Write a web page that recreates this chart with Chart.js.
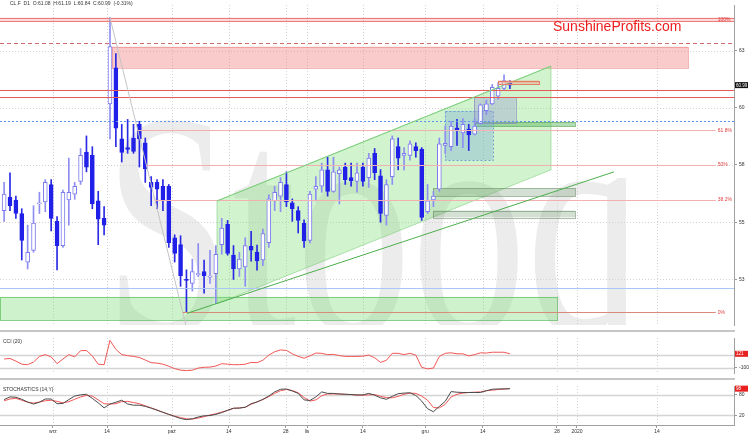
<!DOCTYPE html>
<html>
<head>
<meta charset="utf-8">
<script src="https://cdn.jsdelivr.net/npm/chart.js@4.4.1/dist/chart.umd.min.js"></script>
<style>
  html, body { margin: 0; padding: 0; background: #fff; }
  #wrap { position: relative; width: 756px; height: 436px; overflow: hidden; }
  canvas { position: absolute; left: 0; }
  .sep { position: absolute; left: 0; width: 735px; height: 2px; background: #c6c6c6; }
</style>
</head>
<body>
<div id="wrap">
  <canvas id="price" width="756" height="330" style="top:0"></canvas>
  <canvas id="cci" width="756" height="45" style="top:333px"></canvas>
  <canvas id="stoch" width="756" height="55" style="top:381px"></canvas>
  <div class="sep" style="top:330px"></div>
  <div class="sep" style="top:378px"></div>
</div>
<script>
// CL.F daily candles, 20 Aug - 20 Dec 2019 (session index 0..86)
const opens = [55.51,56.10,55.97,55.38,53.26,53.77,55.80,55.89,56.65,55.04,53.98,55.97,56.23,56.78,58.05,57.92,55.93,55.17,60.17,61.74,
  58.64,58.26,58.68,59.28,58.47,56.74,56.74,56.57,56.57,54.32,54.02,52.50,52.33,52.71,52.84,52.60,52.75,54.02,54.91,53.56,
  52.96,53.05,53.95,53.70,53.35,54.11,55.93,56.14,56.65,55.85,55.51,54.96,54.20,56.44,56.57,57.29,56.35,57.12,57.41,56.95,
  56.78,57.41,56.95,58.01,57.03,55.30,56.99,58.30,57.92,57.92,58.30,58.18,55.46,55.97,56.44,58.35,58.30,59.11,58.90,59.07,
  58.85,59.32,59.87,60.17,60.51,60.85,61.08];
const highs = [56.74,57.16,56.14,55.59,54.87,55.72,56.31,56.86,56.86,55.25,56.40,57.80,56.74,58.22,58.77,58.30,56.35,55.68,63.94,62.37,
  59.28,59.49,59.28,59.41,58.68,56.99,56.86,56.86,56.65,54.45,54.41,52.92,53.39,54.07,53.35,53.77,53.98,55.17,55.08,53.98,
  53.69,54.32,54.60,54.00,54.70,56.20,56.57,56.95,57.20,56.02,55.68,55.10,56.35,56.99,57.58,57.84,57.84,57.41,57.58,57.58,
  57.58,57.58,58.01,58.22,57.30,56.86,58.77,58.68,58.26,58.56,58.47,58.26,56.65,56.35,58.68,59.20,59.41,59.49,59.53,59.28,
  59.53,60.17,60.34,61.02,61.10,61.44,61.19];
const lows = [55.04,55.51,55.17,53.35,52.96,53.69,55.38,55.46,54.62,52.92,53.90,54.87,56.00,56.65,57.20,55.59,54.02,54.45,58.64,58.30,
  57.63,58.01,58.01,57.41,56.74,55.72,55.59,55.51,53.90,53.26,52.20,51.06,51.99,52.63,51.90,52.33,51.44,53.60,53.56,52.50,
  52.63,52.20,53.30,52.90,53.10,53.90,55.51,55.46,55.68,55.04,54.53,53.90,54.10,55.93,56.31,56.14,56.31,55.80,56.65,56.57,
  56.31,56.57,56.52,56.86,55.00,54.87,56.65,57.29,57.29,57.71,57.84,55.08,55.38,55.68,56.35,58.00,58.13,58.35,58.26,58.13,
  58.81,59.28,59.70,60.13,60.38,60.76,60.84];
const closes = [56.23,55.72,55.38,54.20,53.69,54.96,55.85,56.74,55.17,53.98,56.31,56.31,56.57,57.92,57.41,55.80,55.13,54.87,62.67,59.11,
  58.05,58.18,58.09,58.64,57.33,56.52,56.44,55.93,54.11,53.64,52.67,52.46,52.84,52.75,52.67,52.63,53.60,54.74,53.64,52.96,
  53.39,53.98,53.78,53.31,54.50,56.02,56.31,56.74,55.89,55.59,55.08,54.18,56.23,56.57,57.29,56.35,57.20,57.29,56.86,56.82,
  57.16,56.78,57.80,57.16,55.38,56.65,58.64,57.80,58.01,58.43,58.13,55.21,55.93,56.14,58.43,58.45,59.20,59.02,59.28,58.81,
  59.20,60.13,60.17,60.89,60.85,61.19,60.99];

// CCI (20)
const cci = [37,46,4,-46,-54,-12,79,108,71,-38,37,108,71,171,175,87,-46,-54,337,192,
  108,92,79,62,21,-21,-29,-46,-79,-117,-142,-150,-142,-108,-96,-92,-75,-38,-46,-54,
  -54,-46,-17,-21,17,100,154,183,175,121,79,50,87,133,129,108,112,92,79,79,
  79,83,100,58,-17,17,129,129,108,129,100,-96,-121,-108,79,129,137,121,121,87,
  108,137,133,146,146,146,121];

// Stochastics (14,Y): %K black, %D red
const stochK = [66.1,73.9,73,67,59,53,58.3,67.8,67.8,53.9,54.8,66.1,76.5,80,81.7,69.6,56.5,41.7,53,58.3,
  64.3,53,49.6,49.6,46.1,40.9,34.8,28.7,22.6,16.5,10.4,7,9.6,14.8,18.3,19.1,22.6,27.8,34.8,40.9,
  40.9,43.5,53.9,59.1,67,76.5,88.7,96.5,97.4,91.3,84.3,65.2,63.5,73.9,88.7,84.3,84.3,82.6,81.7,80.9,
  80,80,84.3,79.1,71.3,67,75.7,83.5,85.2,86.1,78.3,61.7,39.1,30.4,46.1,60.9,89.6,87.8,87,87,
  87,87,92.2,96.5,97.4,97.4,98.3];
const stochD = [62.6,67.8,69.6,64.3,58.3,55.7,59,62.6,64.3,60.9,56.5,60,67,73.9,78.3,76.5,65.2,53.9,53,53.9,
  60,60.9,57.4,53.9,47.8,41.7,35.7,28.7,22.6,17.4,13,9.6,8.7,11.7,15.7,20.9,24.3,29.6,33.9,40,
  41.7,43.5,52.2,59.1,66.1,74.8,84.3,92.2,95.7,93,86.1,72.2,61.7,65.2,77.4,82.6,82.6,82.6,81.7,80.9,
  79.1,79.1,80,80.9,75.7,72.2,71.3,75.7,81.7,85.2,84.3,76.5,64.3,42.6,41.7,52.2,73.9,81.7,85.2,87,
  87.8,88.7,92.2,93.9,95.7,97.4,98.3];

// axes
const xTickPos = [8.3, 17.5, 28.5, 38.2, 47.9, 51.5, 61, 71.6, 81.4, 94, 97.4, 111];
const xTickText = ['wrz', '14', 'paź', '14', '28', 'lis', '14', 'gru', '14', '28', '2020', '14'];
const priceTicks = [52.5, 55, 57.5, 60, 62.5];
const priceTickText = ['53', '55', '58', '60', '63'];
const cciTicks = [100, -100];
const stochTicks = [80, 20];

// drawn analysis (x in session index, y in price)
const fibHigh = 63.94, fibLow = 51.06, fibEnd = 121;
const fibPct = [0.618, 0.5, 0.382, 0];
const fibText = ['61.8%', '50%', '38.2%', '0%'];
const topBand = [63.77, 63.94];
const redDashLevel = 62.84;
const redLevels = [60.76, 60.47];
const blueDotLevel = 59.41;
const blueLevel = 52.12;
const redZone = [18.3, 116.3, 61.74, 62.67];
const baseZone = [-0.7, 94.0, 50.72, 51.74];
const channel = [[36.2, 55.93], [92.98, 61.82], [92.98, 57.29], [36.2, 51.44]];
const trendLine = [[31.1, 51.02], [103.7, 57.2]];
const fibDiag = [[18, 63.94], [30.9, 50.51]];
const greenBar = [80.05, 97.1, 59.19, 59.36];
const greyBars = [[72.9, 97.1, 56.14, 56.48], [72.9, 97.1, 55.21, 55.51]];
const blueBox = [74.95, 83.1, 57.71, 59.87];
const greyBox = [79.9, 87.0, 59.32, 60.47];
const targetBox = [83.97, 90.9, 61.06, 61.19];

const sessions = opens.map((_, i) => i);
const xMin = -0.7, xMax = 124.1;
const FONT = '"Liberation Sans", Arial, sans-serif';

function hline(ctx, x0, x1, yp) {
  const yy = Math.round(yp) + 0.5;
  ctx.beginPath(); ctx.moveTo(x0, yy); ctx.lineTo(x1, yy); ctx.stroke();
}
function vline(ctx, xp, y0, y1) {
  const xx = Math.round(xp) + 0.5;
  ctx.beginPath(); ctx.moveTo(xx, y0); ctx.lineTo(xx, y1); ctx.stroke();
}
function box(ctx, X, Y, b, fill, stroke, dash) {
  const l = X(b[0]), r = X(b[1]), t = Y(b[3]), bt = Y(b[2]);
  ctx.fillStyle = fill;
  ctx.fillRect(l, t, r - l, bt - t);
  if (stroke) {
    ctx.setLineDash(dash || []);
    ctx.strokeStyle = stroke; ctx.lineWidth = 1;
    ctx.strokeRect(Math.round(l) + 0.5, Math.round(t) + 0.5, Math.round(r - l), Math.round(bt - t));
    ctx.setLineDash([]);
  }
}
function clipArea(ctx, a) {
  ctx.beginPath(); ctx.rect(a.left, a.top, a.right - a.left, a.bottom - a.top); ctx.clip();
}
function vGrid(chart) {
  const { ctx, chartArea: a, scales: { x } } = chart;
  ctx.save();
  ctx.strokeStyle = '#d2d2d2'; ctx.lineWidth = 1; ctx.setLineDash([1, 2]);
  xTickPos.forEach(v => vline(ctx, x.getPixelForValue(v), a.top, a.bottom));
  ctx.restore();
}
function valueTag(chart, value, text, color) {
  const { ctx, chartArea: a, scales: { y } } = chart;
  const yy = y.getPixelForValue(value);
  ctx.save();
  ctx.fillStyle = color;
  ctx.fillRect(a.right + 1, yy - 3, 13, 6);
  ctx.fillStyle = '#fff';
  ctx.font = '4.5px ' + FONT;
  ctx.textBaseline = 'middle';
  ctx.fillText(text, a.right + 2, yy + 0.3);
  ctx.restore();
}
function rightAxis(min, max, ticks) {
  return {
    position: 'right', min: min, max: max,
    afterFit: s => { s.width = 22; },
    afterBuildTicks: s => { s.ticks = ticks.map(v => ({ value: v })); },
    ticks: { font: { size: 5, family: FONT }, color: '#333', padding: 2 },
    grid: { drawOnChartArea: false, tickLength: 3, color: '#9a9a9a' },
    border: { color: '#a0a0a0' }
  };
}

const priceDecor = {
  id: 'priceDecor',
  beforeDatasetsDraw(chart) {
    const { ctx, chartArea: a, scales: { x, y } } = chart;
    const X = v => x.getPixelForValue(v), Y = v => y.getPixelForValue(v);
    ctx.save();
    clipArea(ctx, a);
    // stooq watermark
    ctx.save();
    ctx.fillStyle = '#ececec';
    ctx.font = '320px "Liberation Serif", serif';
    ctx.translate(a.left + 104, a.top + 327);
    ctx.scale(0.72, 1);
    ctx.fillText('Stooq', 0, 0);
    ctx.restore();
    // grid
    ctx.strokeStyle = '#d2d2d2'; ctx.lineWidth = 1; ctx.setLineDash([1, 2]);
    priceTicks.forEach(v => hline(ctx, a.left, a.right, Y(v)));
    xTickPos.forEach(v => vline(ctx, X(v), a.top, a.bottom));
    ctx.setLineDash([]);
    // zones
    ctx.fillStyle = 'rgba(245,150,150,0.35)';
    ctx.fillRect(a.left, Y(topBand[1]), a.right - a.left, Y(topBand[0]) - Y(topBand[1]));
    box(ctx, X, Y, redZone, 'rgba(245,140,140,0.45)', 'rgba(230,120,120,0.5)');
    box(ctx, X, Y, baseZone, 'rgba(120,220,110,0.36)', 'rgba(90,190,90,0.7)');
    ctx.beginPath();
    channel.forEach((p, i) => i ? ctx.lineTo(X(p[0]), Y(p[1])) : ctx.moveTo(X(p[0]), Y(p[1])));
    ctx.closePath();
    ctx.fillStyle = 'rgba(120,220,110,0.34)'; ctx.fill();
    ctx.strokeStyle = 'rgba(110,200,110,0.5)'; ctx.lineWidth = 1; ctx.stroke();
    box(ctx, X, Y, greenBar, 'rgba(100,190,100,0.5)', 'rgba(70,150,70,0.55)');
    greyBars.forEach(b => box(ctx, X, Y, b, 'rgba(120,160,120,0.32)', 'rgba(90,130,90,0.5)'));
    box(ctx, X, Y, blueBox, 'rgba(110,160,215,0.33)', '#6f9fd8', [2, 2]);
    box(ctx, X, Y, greyBox, 'rgba(150,150,205,0.35)', 'rgba(130,130,190,0.6)');
    ctx.restore();
  },
  afterDatasetsDraw(chart) {
    const { ctx, chartArea: a, scales: { x, y } } = chart;
    const X = v => x.getPixelForValue(v), Y = v => y.getPixelForValue(v);
    ctx.save();
    clipArea(ctx, a);
    ctx.lineWidth = 1;
    // top 100% band
    ctx.strokeStyle = '#ec7a7a';
    topBand.forEach(v => hline(ctx, a.left, a.right, Y(v)));
    // dashed level
    ctx.setLineDash([4, 3]); ctx.strokeStyle = '#d26a6a';
    hline(ctx, a.left, a.right, Y(redDashLevel));
    ctx.setLineDash([]);
    ctx.strokeStyle = '#e45a5a';
    redLevels.forEach(v => hline(ctx, a.left, a.right, Y(v)));
    ctx.setLineDash([2, 2]); ctx.strokeStyle = '#5b95f0';
    hline(ctx, a.left, a.right, Y(blueDotLevel));
    ctx.setLineDash([]); ctx.strokeStyle = '#a9c6f5';
    hline(ctx, a.left, a.right, Y(blueLevel));
    // fibonacci diagonal and levels
    ctx.strokeStyle = '#c4c4c4';
    ctx.beginPath(); ctx.moveTo(X(fibDiag[0][0]), Y(fibDiag[0][1])); ctx.lineTo(X(fibDiag[1][0]), Y(fibDiag[1][1])); ctx.stroke();
    const diagX = p => fibDiag[0][0] + (fibDiag[0][1] - p) / (fibDiag[0][1] - fibDiag[1][1]) * (fibDiag[1][0] - fibDiag[0][0]);
    ctx.font = '5px ' + FONT; ctx.textBaseline = 'middle'; ctx.fillStyle = '#e03c3c';
    fibPct.forEach((f, i) => {
      const p = fibLow + f * (fibHigh - fibLow);
      ctx.strokeStyle = f === 0 ? '#d98a78' : '#f2b0b0';
      hline(ctx, X(diagX(p)), X(fibEnd), Y(p));
      ctx.fillText(fibText[i], X(fibEnd) + 2, Y(p));
    });
    ctx.fillText('100%', X(fibEnd) + 2, (Y(topBand[0]) + Y(topBand[1])) / 2);
    // trend line and channel top
    ctx.strokeStyle = '#4caf4c';
    ctx.beginPath(); ctx.moveTo(X(trendLine[0][0]), Y(trendLine[0][1])); ctx.lineTo(X(trendLine[1][0]), Y(trendLine[1][1])); ctx.stroke();
    ctx.strokeStyle = '#7fcf7f';
    ctx.beginPath(); ctx.moveTo(X(channel[0][0]), Y(channel[0][1])); ctx.lineTo(X(channel[1][0]), Y(channel[1][1])); ctx.stroke();
    box(ctx, X, Y, targetBox, 'rgba(240,160,140,0.7)', '#e38066');
    ctx.restore();
  },
  afterDraw(chart) {
    const { ctx } = chart;
    ctx.save();
    ctx.fillStyle = '#333';
    ctx.font = '5px ' + FONT;
    ctx.textBaseline = 'middle';
    ctx.fillText('CL.F  D1  O:' + opens[86].toFixed(2) + '  H:' + highs[86].toFixed(2) + '  L:' + lows[86].toFixed(2) +
      '  C:' + closes[86].toFixed(2) + '  (-0.31%)', 10, 4);
    ctx.fillStyle = '#ee1c1c';
    ctx.font = '14px ' + FONT;
    ctx.fillText('SunshineProfits.com', 553, 27);
    ctx.restore();
    valueTag(chart, closes[86], closes[86].toFixed(2), '#111');
  }
};

new Chart(document.getElementById('price'), {
  type: 'bar',
  data: {
    datasets: [
      {
        label: 'wick',
        data: sessions.map(i => ({ x: i, y: [lows[i], highs[i]] })),
        backgroundColor: sessions.map(i => closes[i] >= opens[i] ? '#8e8ef2' : '#2a2ae4'),
        barThickness: 1, grouped: false, order: 2
      },
      {
        label: 'body',
        data: sessions.map(i => ({ x: i, y: [Math.min(opens[i], closes[i]), Math.max(opens[i], closes[i])] })),
        backgroundColor: sessions.map(i => closes[i] >= opens[i] ? '#ffffff' : '#2020e8'),
        borderColor: sessions.map(i => closes[i] >= opens[i] ? '#7b7bee' : '#2020e8'),
        borderWidth: 1, borderSkipped: false, barThickness: 4, minBarLength: 1, grouped: false, order: 1
      }
    ]
  },
  options: {
    responsive: false, animation: false, devicePixelRatio: 1, events: [],
    layout: { padding: 0 },
    plugins: { legend: { display: false }, tooltip: { enabled: false } },
    scales: {
      x: { type: 'linear', min: xMin, max: xMax, display: false, offset: false },
      y: Object.assign(rightAxis(50.51, 64.49, priceTicks), {
        ticks: { font: { size: 5, family: FONT }, color: '#333', padding: 2, callback: (v, i) => priceTickText[i] }
      })
    }
  },
  plugins: [priceDecor]
});

const cciDecor = {
  id: 'cciDecor',
  beforeDatasetsDraw(chart) {
    const { ctx, chartArea: a, scales: { y } } = chart;
    vGrid(chart);
    ctx.save();
    ctx.strokeStyle = '#d4d4d4'; ctx.lineWidth = 1.5;
    cciTicks.forEach(v => hline(ctx, a.left, a.right, y.getPixelForValue(v)));
    ctx.fillStyle = '#333'; ctx.font = '5px ' + FONT; ctx.textBaseline = 'middle';
    ctx.fillText('CCI (20)', 3, a.top + 4);
    ctx.restore();
  },
  afterDraw(chart) {
    valueTag(chart, cci[86], String(cci[86]), '#e82020');
  }
};

new Chart(document.getElementById('cci'), {
  type: 'line',
  data: {
    datasets: [{
      data: sessions.map(i => ({ x: i, y: cci[i] })),
      borderColor: '#f25656', borderWidth: 1, pointRadius: 0, tension: 0
    }]
  },
  options: {
    responsive: false, animation: false, devicePixelRatio: 1, events: [],
    layout: { padding: 0 },
    plugins: { legend: { display: false }, tooltip: { enabled: false } },
    scales: {
      x: { type: 'linear', min: xMin, max: xMax, display: false },
      y: rightAxis(-187.5, 375, cciTicks)
    }
  },
  plugins: [cciDecor]
});

const stochDecor = {
  id: 'stochDecor',
  beforeDatasetsDraw(chart) {
    const { ctx, chartArea: a, scales: { y } } = chart;
    vGrid(chart);
    ctx.save();
    ctx.strokeStyle = '#d4d4d4'; ctx.lineWidth = 1.5;
    stochTicks.forEach(v => hline(ctx, a.left, a.right, y.getPixelForValue(v)));
    ctx.fillStyle = '#333'; ctx.font = '5px ' + FONT; ctx.textBaseline = 'middle';
    ctx.fillText('STOCHASTICS (14,Y)', 3, a.top + 4);
    ctx.restore();
  },
  afterDraw(chart) {
    valueTag(chart, stochD[86], String(Math.round(stochD[86])), '#e82020');
  }
};

new Chart(document.getElementById('stoch'), {
  type: 'line',
  data: {
    datasets: [
      { data: sessions.map(i => ({ x: i, y: stochK[i] })), borderColor: '#4a4a4a', borderWidth: 1, pointRadius: 0, tension: 0 },
      { data: sessions.map(i => ({ x: i, y: stochD[i] })), borderColor: '#f25656', borderWidth: 1, pointRadius: 0, tension: 0 }
    ]
  },
  options: {
    responsive: false, animation: false, devicePixelRatio: 1, events: [],
    layout: { padding: 0 },
    plugins: { legend: { display: false }, tooltip: { enabled: false } },
    scales: {
      x: {
        type: 'linear', min: xMin, max: xMax,
        afterFit: s => { s.height = 11; },
        afterBuildTicks: s => { s.ticks = xTickPos.map(v => ({ value: v })); },
        ticks: { autoSkip: false, maxRotation: 0, padding: 1, font: { size: 5, family: FONT }, color: '#333',
          callback: (v, i) => xTickText[i] },
        grid: { drawOnChartArea: false, tickLength: 3, color: '#9a9a9a' },
        border: { color: '#a0a0a0' }
      },
      y: rightAxis(-8.7, 106.1, stochTicks)
    }
  },
  plugins: [stochDecor]
});
</script>
</body>
</html>
